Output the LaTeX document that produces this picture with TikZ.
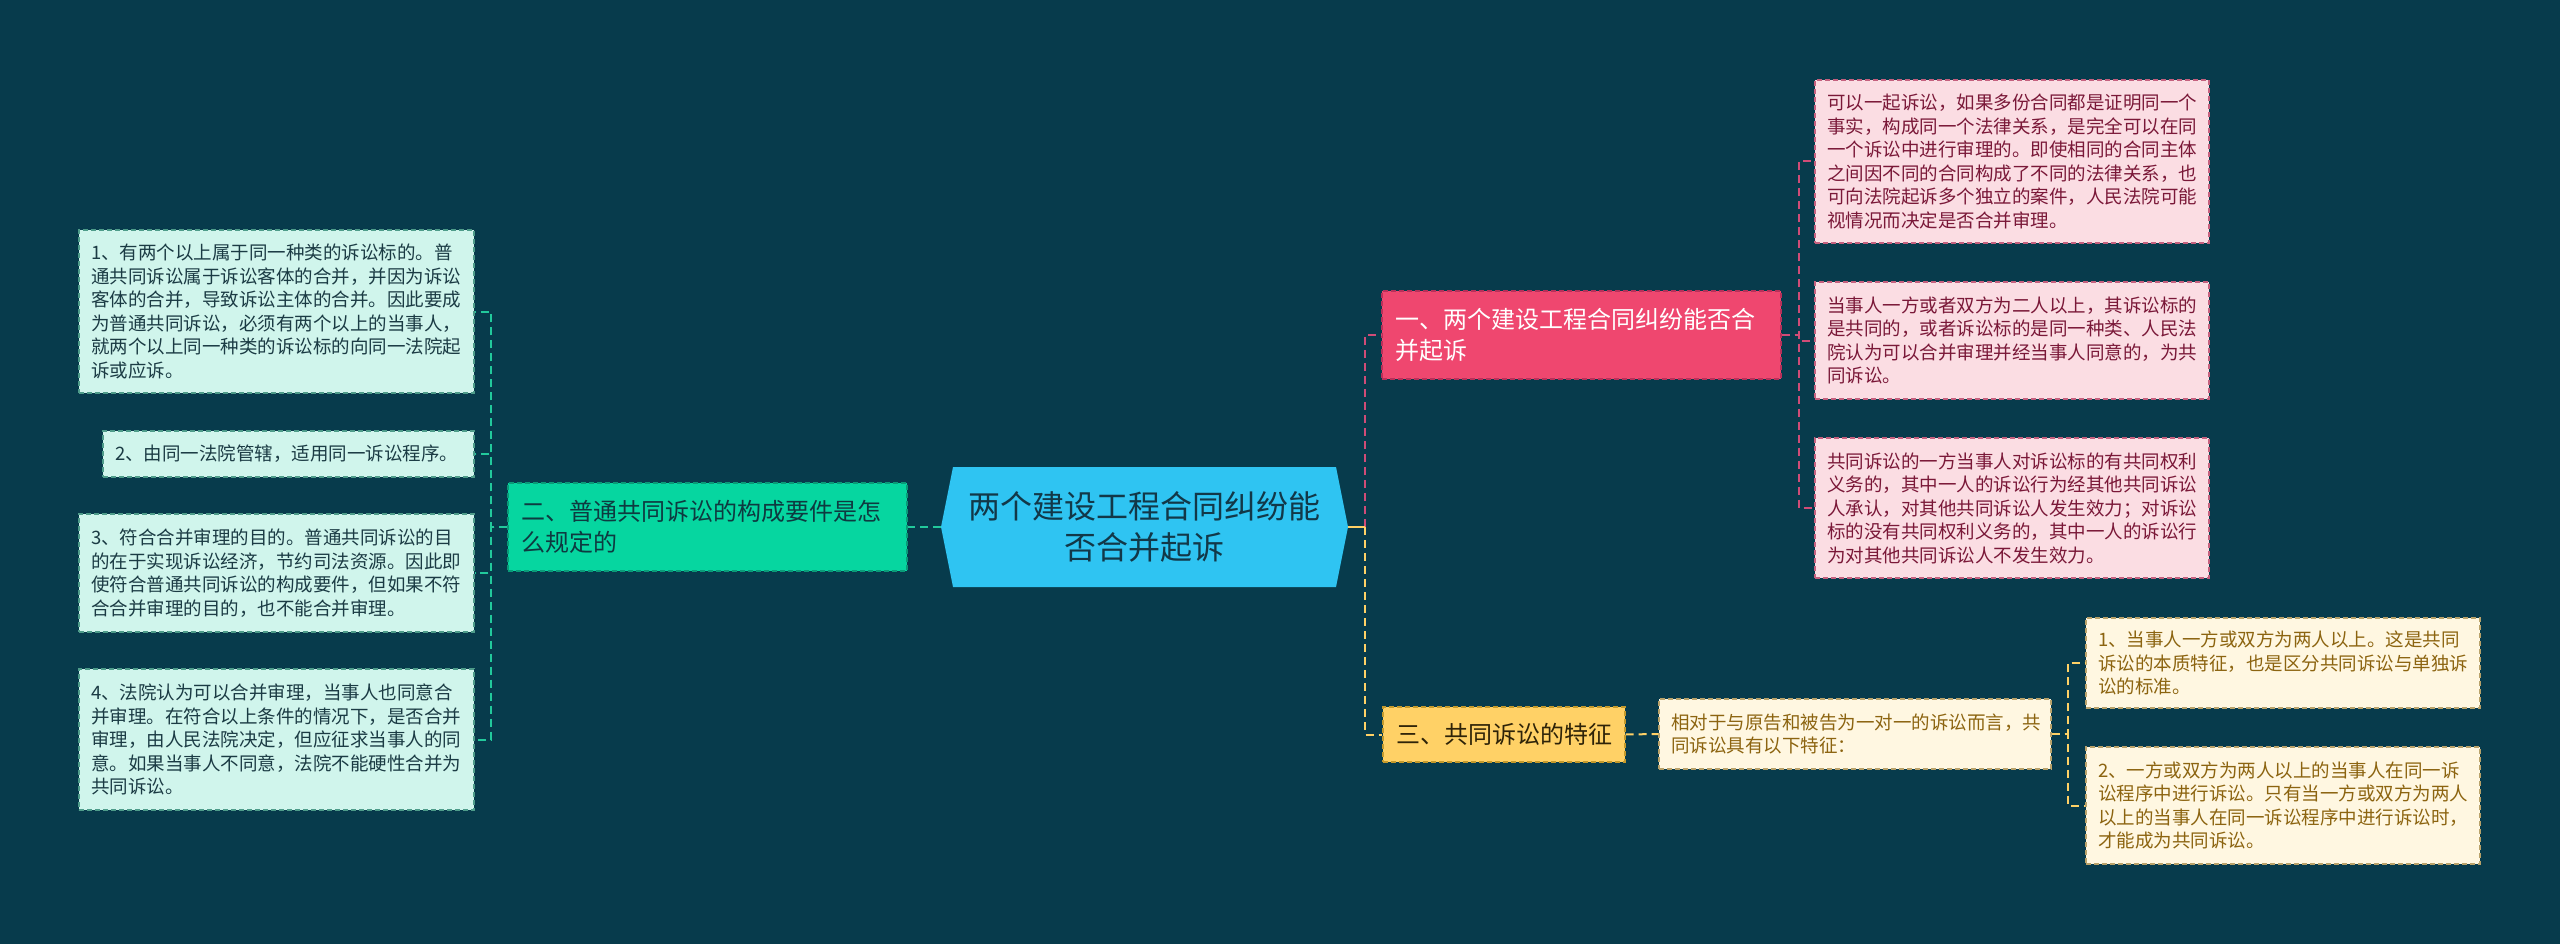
\documentclass[tikz,border=0pt]{standalone}
\usepackage{fontspec}
\setmainfont{Noto Sans CJK SC}
\definecolor{bgc}{HTML}{073B4C}
\definecolor{rootc}{HTML}{2FC4F2}
\definecolor{roott}{HTML}{123848}
\definecolor{gbr}{HTML}{06D6A0}
\definecolor{gbrB}{HTML}{0A9A78}
\definecolor{gbrT}{HTML}{0E3A40}
\definecolor{glf}{HTML}{D0F5EC}
\definecolor{glfB}{HTML}{4E9C8A}
\definecolor{glfT}{HTML}{1B3B44}
\definecolor{gln}{HTML}{22C99C}
\definecolor{pbr}{HTML}{EF476F}
\definecolor{pbrB}{HTML}{B8305A}
\definecolor{plf}{HTML}{FBDDE3}
\definecolor{plfB}{HTML}{C4607E}
\definecolor{plfT}{HTML}{7A1838}
\definecolor{pln}{HTML}{D04C77}
\definecolor{ybr}{HTML}{FFD166}
\definecolor{ybrB}{HTML}{C49A2C}
\definecolor{ybrT}{HTML}{2E2308}
\definecolor{ylf}{HTML}{FFF7E1}
\definecolor{ylfB}{HTML}{B9A26A}
\definecolor{ylfT}{HTML}{8C6410}
\definecolor{yln}{HTML}{FFD166}
\newcommand\leaffont{\fontsize{18.5pt}{23.5pt}\selectfont}
\newcommand\brfont{\fontsize{24pt}{31pt}\selectfont}
\newcommand\rootfont{\fontsize{32pt}{41pt}\selectfont}
\begin{document}
\begin{tikzpicture}[x=1pt,y=-1pt,
  box/.style={rectangle, inner ysep=0pt, align=left, dash pattern=on 5pt off 3pt, line width=1.2pt},
  leafG/.style={box, fill=glf, draw=glfB, text=glfT, font=\leaffont, inner xsep=12pt, text width=371pt},
  leafP/.style={box, fill=plf, draw=plfB, text=plfT, font=\leaffont, inner xsep=12pt, text width=370pt},
  leafY/.style={box, fill=ylf, draw=ylfB, text=ylfT, font=\leaffont, inner xsep=12pt, text width=370pt},
  branch/.style={box, font=\brfont, inner xsep=13pt},
  gline/.style={draw=gln, line width=2pt, dash pattern=on 8pt off 5pt},
  pline/.style={draw=pln, line width=2pt, dash pattern=on 8pt off 5pt},
  yline/.style={draw=yln, line width=2pt, dash pattern=on 8pt off 5pt}
]
\path[use as bounding box, fill=bgc] (0,0) rectangle (2560,944);

% root hexagon
\fill[rootc] (941,527) -- (953,467) -- (1336,467) -- (1348,527) -- (1336,587) -- (953,587) -- cycle;
\node[rectangle, inner sep=0pt, minimum width=407pt, minimum height=120pt, align=center,
      text=roott, font=\rootfont] (root) at (1144.5,527) {两个建设工程合同纠纷能\\否合并起诉};

% left branch
\node[branch, fill=gbr, draw=gbrB, text=gbrT, text width=373pt, minimum height=88pt] (G) at (707.5,527)
  {二、普通共同诉讼的构成要件是怎\\么规定的};

\node[leafG, minimum height=163pt] (L1) at (276.5,311.5)
  {1、有两个以上属于同一种类的诉讼标的。普\\通共同诉讼属于诉讼客体的合并，并因为诉讼\\客体的合并，导致诉讼主体的合并。因此要成\\为普通共同诉讼，必须有两个以上的当事人，\\就两个以上同一种类的诉讼标的向同一法院起\\诉或应诉。};
\node[leafG, text width=347pt, minimum height=46pt] (L2) at (288.5,454)
  {2、由同一法院管辖，适用同一诉讼程序。};
\node[leafG, minimum height=118pt] (L3) at (276.5,573)
  {3、符合合并审理的目的。普通共同诉讼的目\\的在于实现诉讼经济，节约司法资源。因此即\\使符合普通共同诉讼的构成要件，但如果不符\\合合并审理的目的，也不能合并审理。};
\node[leafG, minimum height=141pt] (L4) at (276.5,739.5)
  {4、法院认为可以合并审理，当事人也同意合\\并审理。在符合以上条件的情况下，是否合并\\审理，由人民法院决定，但应征求当事人的同\\意。如果当事人不同意，法院不能硬性合并为\\共同诉讼。};

% right branch 1
\node[branch, fill=pbr, draw=pbrB, text=white, text width=373pt, minimum height=88pt] (P) at (1581.5,335)
  {一、两个建设工程合同纠纷能否合\\并起诉};
\node[leafP, minimum height=163pt] (R1) at (2012,161.5)
  {可以一起诉讼，如果多份合同都是证明同一个\\事实，构成同一个法律关系，是完全可以在同\\一个诉讼中进行审理的。即使相同的合同主体\\之间因不同的合同构成了不同的法律关系，也\\可向法院起诉多个独立的案件，人民法院可能\\视情况而决定是否合并审理。};
\node[leafP, minimum height=117pt] (R2) at (2012,340.5)
  {当事人一方或者双方为二人以上，其诉讼标的\\是共同的，或者诉讼标的是同一种类、人民法\\院认为可以合并审理并经当事人同意的，为共\\同诉讼。};
\node[leafP, minimum height=140pt] (R3) at (2012,508)
  {共同诉讼的一方当事人对诉讼标的有共同权利\\义务的，其中一人的诉讼行为经其他共同诉讼\\人承认，对其他共同诉讼人发生效力；对诉讼\\标的没有共同权利义务的，其中一人的诉讼行\\为对其他共同诉讼人不发生效力。};

% right branch 3
\node[branch, fill=ybr, draw=ybrB, text=ybrT, text width=216pt, minimum height=55pt] (Y) at (1504,734.5)
  {三、共同诉讼的特征};
\node[leafY, text width=368pt, minimum height=70pt] (M) at (1855,734)
  {相对于与原告和被告为一对一的诉讼而言，共\\同诉讼具有以下特征：};
\node[leafY, minimum height=90pt] (Y1) at (2283,663)
  {1、当事人一方或双方为两人以上。这是共同\\诉讼的本质特征，也是区分共同诉讼与单独诉\\讼的标准。};
\node[leafY, minimum height=117pt] (Y2) at (2283,805.5)
  {2、一方或双方为两人以上的当事人在同一诉\\讼程序中进行诉讼。只有当一方或双方为两人\\以上的当事人在同一诉讼程序中进行诉讼时，\\才能成为共同诉讼。};

% connector junctions
\coordinate (gv) at (491,527);
\coordinate (rv) at (1365,527);
\coordinate (pv) at (1799,335);
\coordinate (mv) at (2068,734);

% left connectors
\draw[gline] (root.west) -- (G.east);
\foreach \t in {L1,L2,L3,L4} \draw[gline] (G.west) -- (gv) |- (\t.east);

% right connectors
\draw[pline] (rv) |- (P.west);
\draw[yline] (rv) |- (Y.west);
\draw[draw=yln, line width=2pt] (root.east) -- (rv);
\foreach \t in {R1,R2,R3} \draw[pline] (P.east) -- (pv) |- (\t.west);
\draw[yline] (Y.east) -- (M.west);
\foreach \t in {Y1,Y2} \draw[yline] (M.east) -- (mv) |- (\t.west);
\end{tikzpicture}
\end{document}
